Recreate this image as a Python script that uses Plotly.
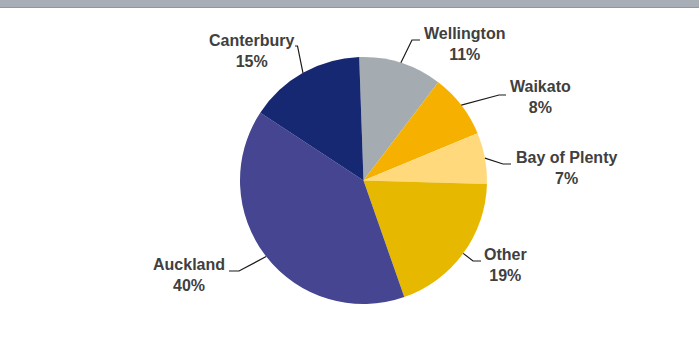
import math
import plotly.graph_objects as go

# ---- data ----
regions = ["Wellington", "Waikato", "Bay of Plenty", "Other", "Auckland", "Canterbury"]
shares = [10.9, 8.4, 6.7, 19.2, 39.6, 15.2]
colors = ["#A5ACB1", "#F6B000", "#FFD97B", "#E6B800", "#454591", "#172873"]

# ---- layout / geometry ----
W, H = 699, 338
CX, CY, R = 363.5, 180.5, 123.5   # pie center & radius in px
ROT = -2                            # start angle (deg, clockwise from 12 o'clock)

# label placement (px): text center, elbow of leader, end of leader tail
label_pos = {
    "Canterbury":    dict(text=(251, 50.7),  elbow=(297.5, 46),  tail=(295, 46)),
    "Wellington":    dict(text=(464, 43.7),  elbow=(412, 40),    tail=(420, 40)),
    "Waikato":       dict(text=(540, 97.5),  elbow=(499, 95),    tail=(506, 95)),
    "Bay of Plenty": dict(text=(566.5, 168), elbow=(503, 164),   tail=(511, 164)),
    "Other":         dict(text=(505, 265.3), elbow=(473, 261),   tail=(481, 261)),
    "Auckland":      dict(text=(189, 275),   elbow=(239, 271),   tail=(229, 271)),
}

def px(x):
    return x / W

def py(y):
    return 1 - y / H

fig = go.Figure(go.Pie(
    labels=regions, values=shares, sort=False, direction="clockwise",
    rotation=ROT, textinfo="none", hoverinfo="label+percent",
    marker=dict(colors=colors, line=dict(width=0)),
    domain=dict(x=[px(CX - R), px(CX + R)], y=[py(CY + R), py(CY - R)]),
    showlegend=False,
))

total = sum(shares)
annotations = []
shapes = [
    dict(type="rect", xref="paper", yref="paper", x0=0, x1=1, y0=py(8), y1=1,
         fillcolor="#A7AEB5", line=dict(width=0), layer="above"),
    dict(type="line", xref="paper", yref="paper", x0=0, x1=1, y0=py(7.5), y1=py(7.5),
         line=dict(color="#8F979F", width=1), layer="above"),
]

cum = 0.0
for name, val in zip(regions, shares):
    mid = ROT + 360 * (cum + val / 2) / total
    cum += val
    a = math.radians(mid)
    ex, ey = CX + R * math.sin(a), CY - R * math.cos(a)
    lp = label_pos[name]
    (tx, ty), (bx, by), (qx, qy) = lp["text"], lp["elbow"], lp["tail"]
    pct = int(math.floor(100 * val / total + 0.5))
    annotations.append(dict(
        x=px(tx), y=py(ty), xref="paper", yref="paper", showarrow=False,
        text=f"{name}<br>{pct}%", align="center", xanchor="center", yanchor="middle",
        font=dict(family="Liberation Sans, Arial, sans-serif", size=16,
                  color="#404040", weight="bold"),
    ))
    shapes.append(dict(
        type="path", xref="paper", yref="paper",
        path=f"M {px(ex)},{py(ey)} L {px(bx)},{py(by)} L {px(qx)},{py(qy)}",
        line=dict(color="#1A1A1A", width=1.2),
    ))

fig.update_layout(
    width=W, height=H, margin=dict(l=0, r=0, t=0, b=0),
    paper_bgcolor="white", plot_bgcolor="white",
    annotations=annotations, shapes=shapes,
)

fig.write_html(
    "out.html",
    config={"displayModeBar": False},
    post_script="document.body.style.margin='0';document.body.style.overflow='hidden';",
)
